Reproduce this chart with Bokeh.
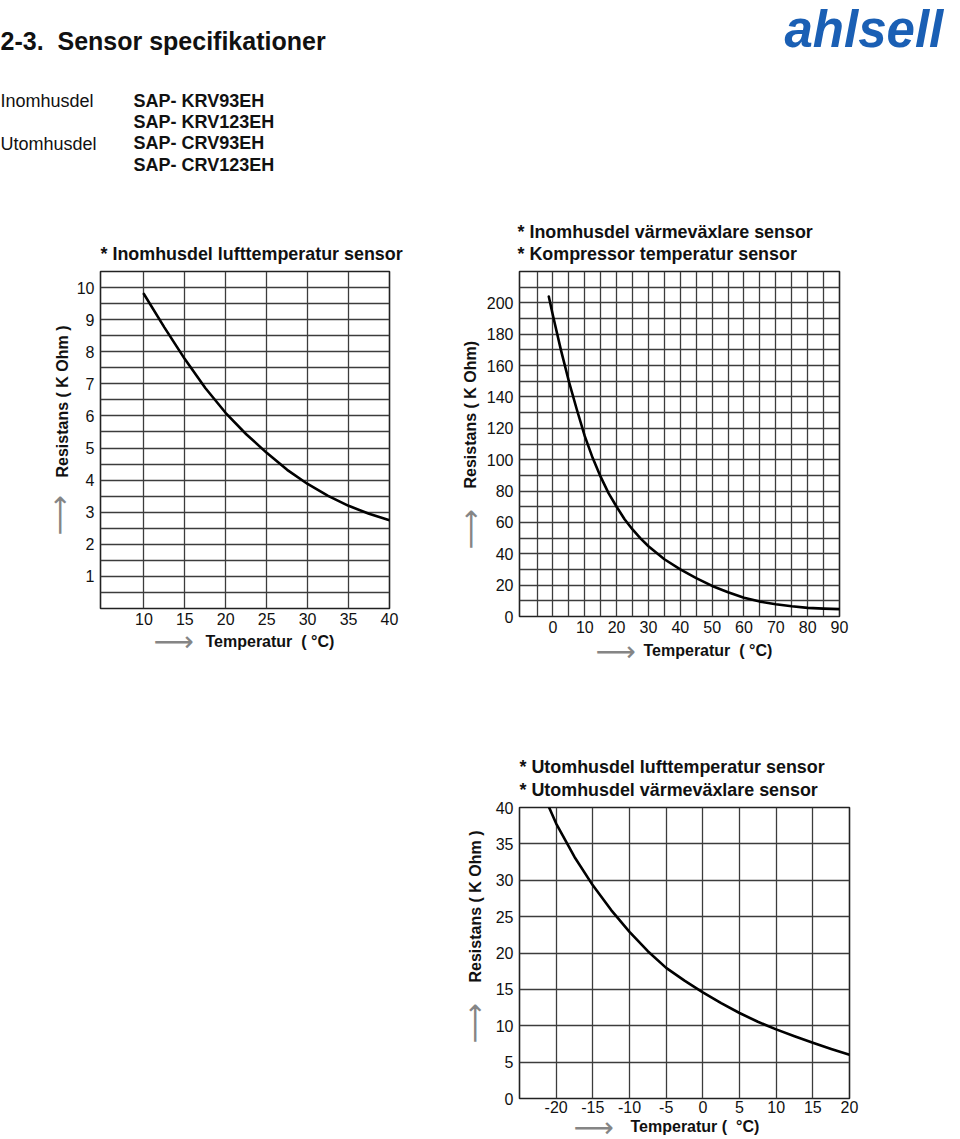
from bokeh.plotting import figure
from bokeh.layouts import column, row
from bokeh.models import Range1d, FixedTicker, Label, Spacer, Title
from bokeh.embed import file_html
from bokeh.resources import INLINE
import numpy as np

FONT = "Liberation Sans"
INK = "#111111"
GRID = "#3c3c3c"
ARROW = "#858585"
NB = "\u00a0"
ARROW_TXT = "\u27f6"
ARROW_FONT = "DejaVu Sans"
ARROW_SIZE = "28px"

# ---------------- data ----------------
# Chart 1: Inomhusdel lufttemperatur sensor
t1 = [10, 12.5, 15, 17.5, 20, 22.5, 25, 27.5, 30, 32.5, 35, 37.5, 40]
r1 = [9.80, 8.76, 7.77, 6.87, 6.09, 5.43, 4.85, 4.32, 3.88, 3.51, 3.20, 2.95, 2.75]
x1_ticks = [10, 15, 20, 25, 30, 35, 40]
y1_ticks = [1, 2, 3, 4, 5, 6, 7, 8, 9, 10]

# Chart 2: Inomhusdel värmeväxlare / Kompressor temperatur sensor
t2 = [-1.3, 0, 2.5, 5, 7.5, 10, 12.5, 15, 17.5, 20, 22.5, 25, 27.5, 30, 35, 40,
      45, 50, 55, 60, 65, 70, 75, 80, 85, 90]
r2 = [204, 192, 170, 150, 132, 115, 101, 89, 78.5, 70, 62, 55.5, 49.8, 44.8, 36.5, 30,
      24.5, 19.5, 15.5, 12, 9.5, 7.8, 6.5, 5.5, 5.0, 4.7]
x2_ticks = [0, 10, 20, 30, 40, 50, 60, 70, 80, 90]
y2_ticks = [0, 20, 40, 60, 80, 100, 120, 140, 160, 180, 200]

# Chart 3: Utomhusdel lufttemperatur / värmeväxlare sensor
t3 = [-20.96, -20, -17.5, -15, -12.5, -10, -7.5, -5, -2.5, 0, 2.5, 5, 7.5, 10, 12.5, 15, 17.5, 20]
r3 = [40, 37.8, 33.2, 29.3, 25.9, 22.9, 20.25, 17.95, 16.2, 14.6, 13.1, 11.75, 10.55, 9.5, 8.55, 7.65, 6.8, 6.0]
x3_ticks = [-20, -15, -10, -5, 0, 5, 10, 15, 20]
y3_ticks = [0, 5, 10, 15, 20, 25, 30, 35, 40]

header_title = "2-3." + NB + " Sensor specifikationer"
header_left = ["Inomhusdel", "Utomhusdel"]
header_models = ["SAP- KRV93EH", "SAP- KRV123EH", "SAP- CRV93EH", "SAP- CRV123EH"]


def make_chart(origin, size, frame, xr, yr, xticks, yticks, xgrid, ygrid, tx, ty, xstand=4):
    ox, oy = origin
    w, h = size
    L, R, T, B = frame
    p = figure(width=w, height=h, x_range=Range1d(*xr), y_range=Range1d(*yr),
               output_backend="svg", toolbar_location=None, title=None,
               min_border_left=L - ox, min_border_right=ox + w - R,
               min_border_top=T - oy, min_border_bottom=oy + h - B)
    p.background_fill_color = "white"
    p.border_fill_color = "white"
    p.outline_line_color = "#222222"
    p.outline_line_width = 1.6
    p.outline_line_alpha = 1.0
    p.xaxis.ticker = FixedTicker(ticks=xticks)
    p.yaxis.ticker = FixedTicker(ticks=yticks)
    p.xaxis.major_label_overrides = {t: str(t) for t in xticks}
    p.yaxis.major_label_overrides = {t: str(t) for t in yticks}
    p.xgrid.ticker = FixedTicker(ticks=xgrid)
    p.ygrid.ticker = FixedTicker(ticks=ygrid)
    for g in (p.xgrid, p.ygrid):
        g.grid_line_color = GRID
        g.grid_line_width = 1.3
        g.grid_line_alpha = 1.0
    for ax in (p.xaxis, p.yaxis):
        ax.axis_line_color = None
        ax.major_tick_line_color = None
        ax.minor_tick_line_color = None
        ax.major_tick_out = 0
        ax.major_tick_in = 0
        ax.major_label_text_font = FONT
        ax.major_label_text_font_size = "16px"
        ax.major_label_text_color = INK
    p.xaxis.major_label_standoff = xstand
    p.yaxis.major_label_standoff = 6
    p.line(tx, ty, line_color="black", line_width=2.6, line_join="round", line_cap="round")
    return p


def add_title(p, side, text, size="16px", offset=0, standoff=5, valign="bottom",
              style="bold", color=INK, font=FONT):
    p.add_layout(Title(text=text, align="left", offset=offset, standoff=standoff,
                       vertical_align=valign, text_font=font, text_font_size=size,
                       text_font_style=style, text_color=color), side)


def add_arrow(p, side, offset, standoff):
    add_title(p, side, ARROW_TXT, size=ARROW_SIZE, offset=offset, standoff=standoff,
              valign="bottom" if side == "left" else "top", style="normal",
              color=ARROW, font=ARROW_FONT)


# ---------------- header ----------------
hdr = figure(width=956, height=208, x_range=Range1d(0, 956), y_range=Range1d(208, 0),
             output_backend="svg", toolbar_location=None, min_border=0,
             x_axis_location=None, y_axis_location=None)
hdr.grid.visible = False
hdr.outline_line_color = None
hdr.add_layout(Label(x=0, y=40, text=header_title, text_font=FONT, text_font_size="25px",
                     text_font_style="bold", text_color=INK, text_baseline="middle"))
for i, t in enumerate(header_left):
    hdr.add_layout(Label(x=0, y=100 + 43.5 * i, text=t, text_font=FONT, text_font_size="18px",
                         text_color=INK, text_baseline="middle"))
for i, t in enumerate(header_models):
    hdr.add_layout(Label(x=133, y=100 + 21.4 * i, text=t, text_font=FONT, text_font_size="18px",
                         text_font_style="bold", text_color=INK, text_baseline="middle"))
hdr.add_layout(Label(x=784, y=28.5, text="ahlsell", text_font=FONT, text_font_size="51px",
                     text_font_style="bold italic", text_color="#1a5fb4",
                     text_baseline="middle"))

# ---------------- chart 1 ----------------
p1 = make_chart((0, 208), (420, 460), (100, 389, 271, 608), (4.7, 40), (0, 10.5),
                x1_ticks, y1_ticks, x1_ticks, list(np.arange(0.5, 10.5, 0.5)), t1, r1)
add_title(p1, "above", "* Inomhusdel lufttemperatur sensor", size="17.9px", offset=0, standoff=16)
add_title(p1, "left", "Resistans ( K Ohm )", offset=131, standoff=5)
add_arrow(p1, "left", 73, -53.8)
add_title(p1, "below", "Temperatur" + NB + " ( \u00b0C)", offset=105, standoff=10, valign="top")
add_arrow(p1, "below", 53, -63.0)

# ---------------- chart 2 ----------------
p2 = make_chart((420, 208), (536, 468), (519, 839, 271, 616), (-10.5, 90), (0, 220),
                x2_ticks, y2_ticks, list(range(-5, 90, 5)), list(range(10, 220, 10)), t2, r2)
add_title(p2, "above", "* Kompressor temperatur sensor", size="17.9px", offset=-2, standoff=16)
add_title(p2, "above", "* Inomhusdel v\u00e4rmev\u00e4xlare sensor", size="17.9px", offset=-2, standoff=-16)
add_title(p2, "left", "Resistans ( K Ohm)", offset=128, standoff=10)
add_arrow(p2, "left", 67, -64.5)
add_title(p2, "below", "Temperatur" + NB + " ( \u00b0C)", offset=124, standoff=12, valign="top")
add_arrow(p2, "below", 76, -63.2)

# ---------------- chart 3 ----------------
p3 = make_chart((420, 676), (536, 462), (519, 849, 807, 1099), (-25, 20), (0, 40),
                x3_ticks, y3_ticks, x3_ticks, list(range(5, 40, 5)), t3, r3, xstand=2)
add_title(p3, "above", "* Utomhusdel v\u00e4rmev\u00e4xlare sensor", size="17.9px", offset=0, standoff=14.5)
add_title(p3, "above", "* Utomhusdel lufttemperatur sensor", size="17.9px", offset=0, standoff=-13)
add_title(p3, "left", "Resistans ( K Ohm )", offset=116, standoff=18)
add_arrow(p3, "left", 55, -70.5)
add_title(p3, "below", "Temperatur (" + NB + " \u00b0C)", offset=111, standoff=4, valign="top")
add_arrow(p3, "below", 54, -55.6)

layout = column(hdr, row(p1, p2), row(Spacer(width=420, height=462), p3))

open("out.html", "w").write(file_html(layout, INLINE))
